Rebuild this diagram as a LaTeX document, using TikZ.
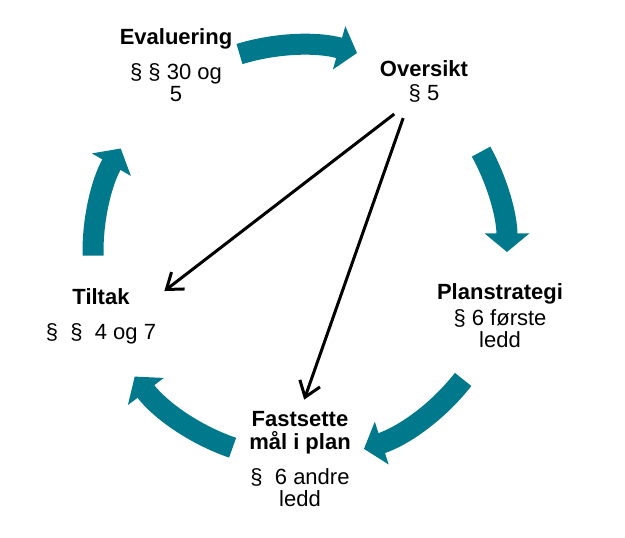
\documentclass[tikz,border=0pt]{standalone}
\usepackage{fontspec}
\setmainfont{Liberation Sans}
\usepackage{xcolor}
\usepackage{tikz}
\usetikzlibrary{arrows.meta, positioning}
\definecolor{cycleteal}{RGB}{0,121,140}
\tikzstyle{stagehead} = [font=\fontsize{16.5pt}{17.25pt}\selectfont\bfseries, align=center, inner sep=0pt, anchor=base]
\tikzstyle{stageref} = [font=\fontsize{16.5pt}{17pt}\selectfont, align=center, inner sep=0pt]
\tikzstyle{pointer} = [line width=2.25pt, -{Straight Barb[length=11pt,width=16pt]}]
\tikzstyle{cyclearrow} = [cycleteal, line width=15.75pt, -{Triangle[length=14pt,width=33pt]}]

\begin{document}
\begin{tikzpicture}[x=0.75pt, y=0.75pt]
    \useasboundingbox (0,0) rectangle (625,538);
    % Stages
    \node (eval) [stagehead] at (176,493) {Evaluering};
    \node (evalref) [stageref, below=42.75pt of eval.base, anchor=base] {§ § 30 og\\5};
    \node (over) [stagehead] at (424,461) {Oversikt};
    \node (overref) [stageref, below=18pt of over.base, anchor=base] {§ 5};
    \node (plan) [stagehead] at (500,238) {Planstrategi};
    \node (planref) [stageref, below=36pt of plan.base, anchor=base] {§ 6 første\\ledd};
    \node (fast) [stagehead] at (300,88) {Fastsette\\mål i plan};
    \node (fastref) [stageref, below=42.75pt of fast.base, anchor=base] {§ \ 6 andre\\ledd};
    \node (tilt) [stagehead] at (101,233) {Tiltak};
    \node (tiltref) [stageref, below=26.25pt of tilt.base, anchor=base] {§ \ § \ 4 og 7};

    % Cycle
    \coordinate (hub) at (300,286);
    \draw [cyclearrow] ([shift={(107:207)}]hub) arc[start angle=107, end angle=74, radius=207];
    \draw [cyclearrow] ([shift={(29:207)}]hub) arc[start angle=29, end angle=0, radius=207];
    \draw [cyclearrow] ([shift={(-38:207)}]hub) arc[start angle=-38, end angle=-72, radius=207];
    \draw [cyclearrow] ([shift={(251:207)}]hub) arc[start angle=251, end angle=217, radius=207];
    \draw [cyclearrow] ([shift={(181:207)}]hub) arc[start angle=181, end angle=150, radius=207];

    % Arrows
    \draw [pointer, shorten <=13.4pt, shorten >=7.5pt] (overref.south west) -- ([xshift=20pt]tilt.east);
    \draw [pointer, shorten <=11.9pt, shorten >=9.5pt] (overref.south west) -- (fast.north);
\end{tikzpicture}
\end{document}
